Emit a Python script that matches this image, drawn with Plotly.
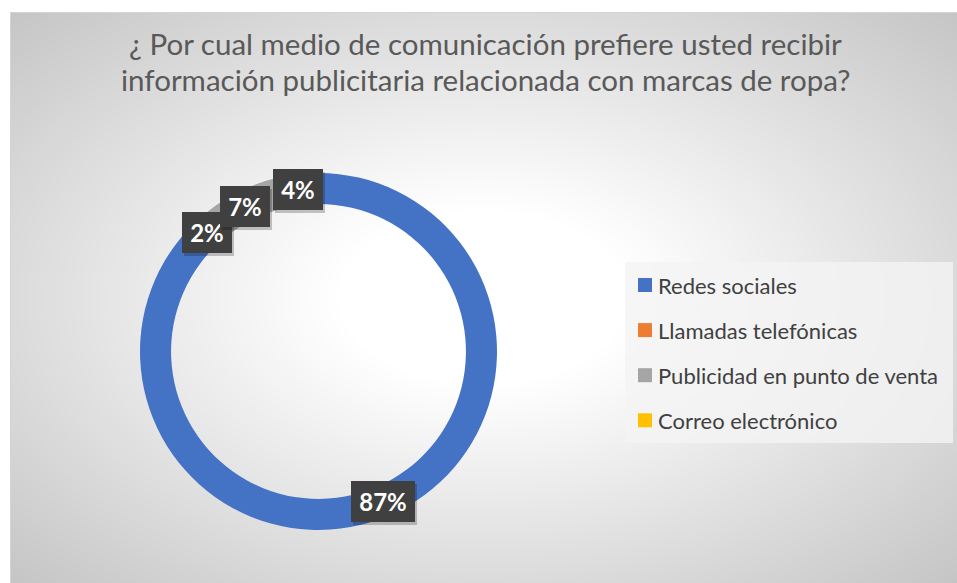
import base64
import math
import struct
import zlib

import numpy as np
import plotly.graph_objects as go

# ---- data -------------------------------------------------------------
categories = ["Redes sociales", "Llamadas telefónicas",
              "Publicidad en punto de venta", "Correo electrónico"]
percentages = [87, 2, 7, 4]
colors = ["#4472C4", "#ED7D31", "#A5A5A5", "#FFC000"]
title_lines = ["¿ Por cual medio de comunicación prefiere usted recibir",
               "información publicitaria relacionada con marcas de ropa?"]

W, H = 957, 583
FONT = "Lato"


def px(x):
    return x / W


def py(y):
    return 1 - y / H


# ---- radial gradient for the chart area background -------------------
def gradient_png(w, h):
    xs = (np.arange(w) + 0.5 - w / 2) / (w / 2)
    ys = (np.arange(h) + 0.5 - h / 2) / (h / 2)
    d = np.sqrt(xs[None, :] ** 2 + ys[:, None] ** 2)
    t = np.clip((d - 0.3) / (math.sqrt(2) - 0.3), 0, 1)
    val = (255 - t * 58).round().astype(np.uint8)
    raw = b"".join(b"\x00" + val[i].tobytes() for i in range(h))

    def chunk(tag, data):
        return (struct.pack(">I", len(data)) + tag + data
                + struct.pack(">I", zlib.crc32(tag + data) & 0xFFFFFFFF))

    ihdr = struct.pack(">IIBBBBB", w, h, 8, 0, 0, 0, 0)
    png = (b"\x89PNG\r\n\x1a\n" + chunk(b"IHDR", ihdr)
           + chunk(b"IDAT", zlib.compress(raw, 9)) + chunk(b"IEND", b""))
    return "data:image/png;base64," + base64.b64encode(png).decode()


AX0, AY0 = 10, 12          # chart area top-left corner
AW, AH = W - AX0, H - AY0

# ---- doughnut geometry -----------------------------------------------
CX, CY = 318.5, 351.5       # centre (pixels)
R_OUT = 178.5
HOLE = 0.826
R_MID = R_OUT * (1 + HOLE) / 2

fig = go.Figure()
fig.add_trace(go.Pie(
    labels=categories,
    values=percentages,
    marker=dict(colors=colors, line=dict(width=0)),
    hole=HOLE,
    sort=False,
    direction="clockwise",
    rotation=0,
    textinfo="none",
    hoverinfo="label+percent",
    showlegend=False,
    domain=dict(x=[px(CX - R_OUT), px(CX + R_OUT)],
                y=[py(CY + R_OUT), py(CY - R_OUT)]),
))

annotations = []
shapes = []

# data labels: dark boxes at the middle of each slice on the ring
total = sum(percentages)
cum = 0
for val in percentages:
    mid = (cum + val / 2) / total * 2 * math.pi
    cum += val
    lx = CX + R_MID * math.sin(mid)
    ly = CY - R_MID * math.cos(mid)
    text = f"{val}%"
    bw = 14 * len(text) + 22
    for shadow in (True, False):
        annotations.append(dict(
            x=px(lx), y=py(ly), xref="paper", yref="paper",
            text="" if shadow else f"<b>{text}</b>",
            showarrow=False, width=bw, height=41, borderpad=0,
            bgcolor="rgba(0,0,0,0.22)" if shadow else "#404040",
            borderwidth=0,
            xshift=2 if shadow else 0, yshift=-3 if shadow else 0,
            font=dict(family=FONT, size=24, color="white"),
            xanchor="center", yanchor="middle",
        ))

# title
for i, line in enumerate(title_lines):
    annotations.append(dict(
        x=px(485.5), y=py(44 + 36 * i), xref="paper", yref="paper",
        text=line, showarrow=False, xanchor="center", yanchor="middle",
        font=dict(family=FONT, size=29.5, color="#595959"),
    ))

# legend
LX0, LY0, LX1, LY1 = 625, 262, 953, 443
shapes.append(dict(type="rect", xref="paper", yref="paper",
                   x0=px(LX0), x1=px(LX1), y0=py(LY1), y1=py(LY0),
                   fillcolor="rgba(244,244,244,0.8)", line=dict(width=0)))
for i, (name, col) in enumerate(zip(categories, colors)):
    yc = 285 + 45.1 * i
    shapes.append(dict(type="rect", xref="paper", yref="paper",
                       x0=px(638), x1=px(652), y0=py(yc + 7), y1=py(yc - 7),
                       fillcolor=col, line=dict(width=0)))
    annotations.append(dict(
        x=px(656), y=py(yc), xref="paper", yref="paper", text=name,
        showarrow=False, xanchor="left", yanchor="middle",
        font=dict(family=FONT, size=22, color="#404040"),
    ))

# chart area border
shapes.append(dict(type="rect", xref="paper", yref="paper",
                   x0=px(AX0 + 0.5), x1=px(W + 2), y0=py(H + 2), y1=py(AY0 + 0.5),
                   line=dict(color="#d4d4d4", width=1), fillcolor="rgba(0,0,0,0)",
                   layer="below"))

fig.update_layout(
    width=W, height=H, autosize=False,
    margin=dict(l=0, r=0, t=0, b=0),
    paper_bgcolor="white", plot_bgcolor="white",
    images=[dict(source=gradient_png(AW, AH), xref="paper", yref="paper",
                 x=px(AX0), y=py(AY0), sizex=AW / W, sizey=AH / H,
                 xanchor="left", yanchor="top", sizing="stretch",
                 layer="below")],
    annotations=annotations,
    shapes=shapes,
    showlegend=False,
)

fig.write_html("out.html")
